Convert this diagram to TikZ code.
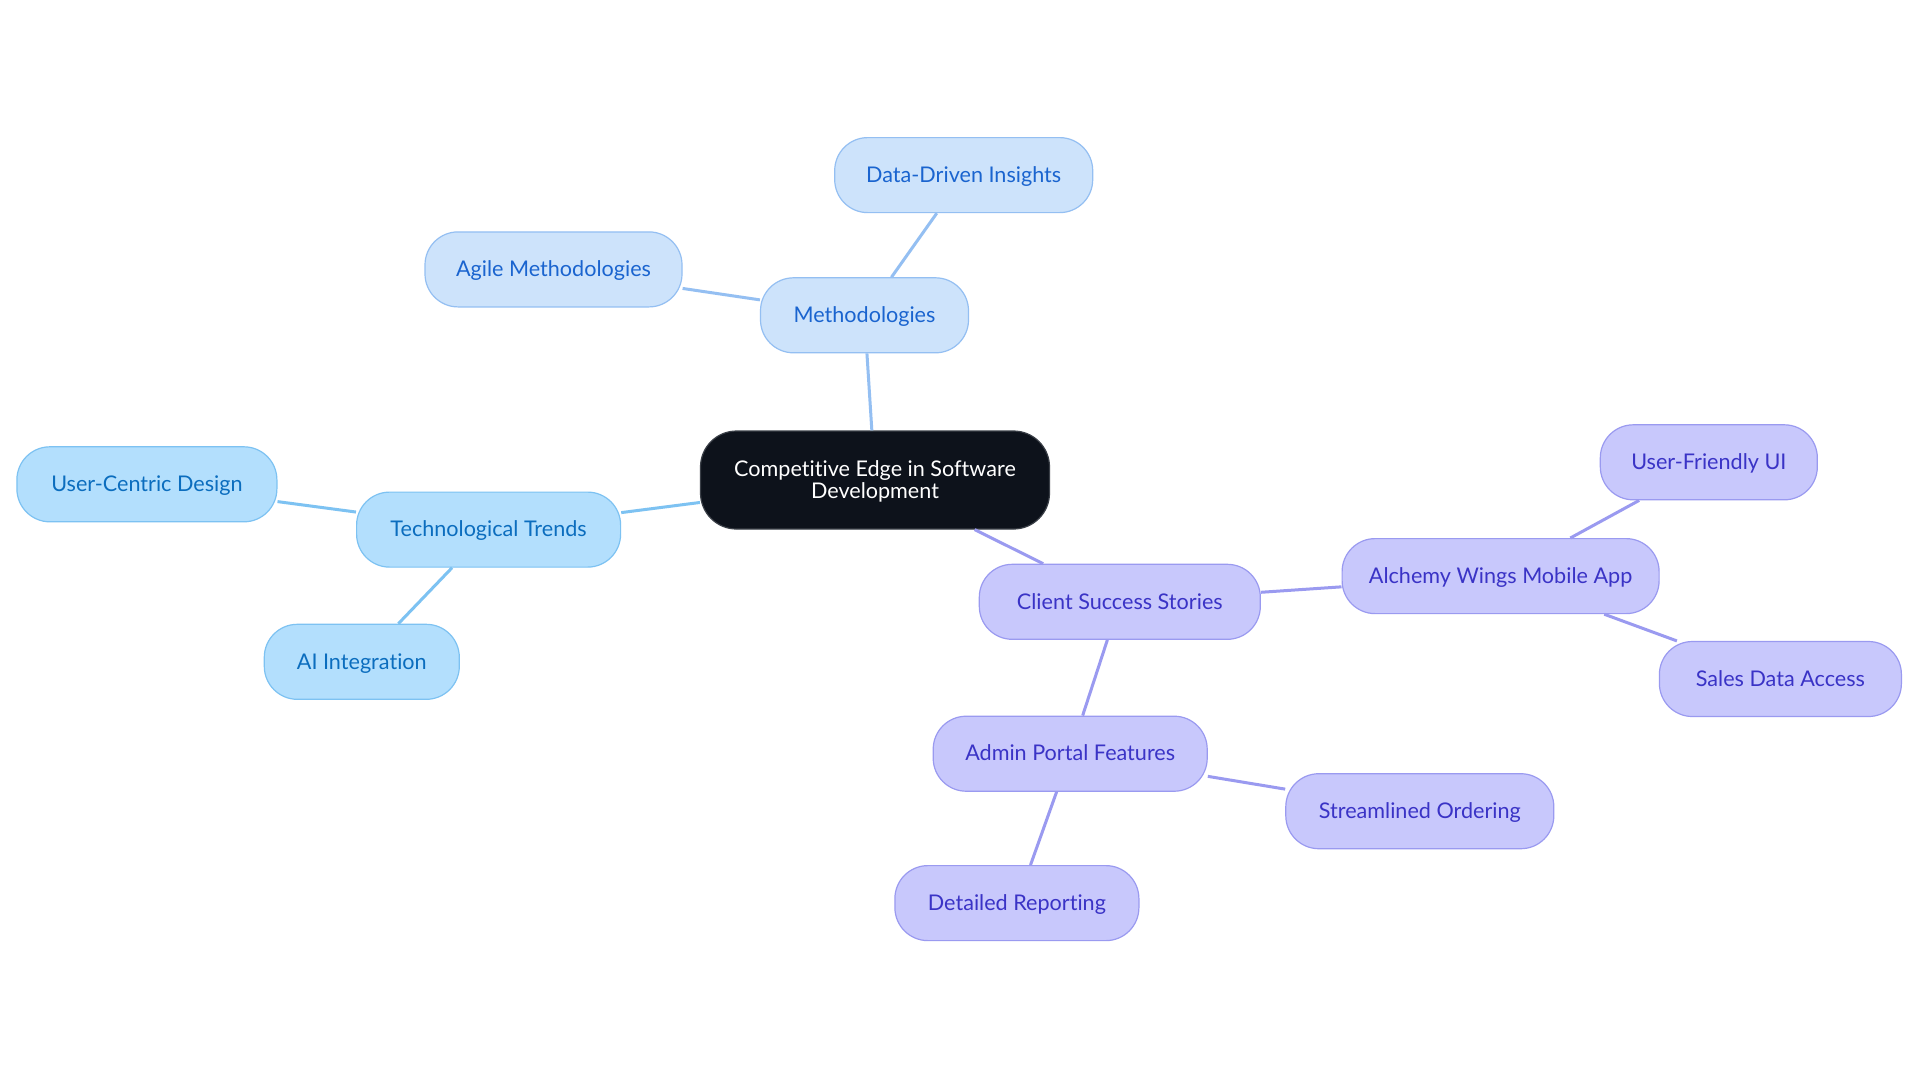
\documentclass[tikz,border=0pt]{standalone}
\usepackage{fontspec}
\setmainfont{Lato}[Ligatures={NoCommon,NoRare,NoDiscretionary}]
\definecolor{mfill}{HTML}{CDE3FB}
\definecolor{mdraw}{HTML}{94BFF2}
\definecolor{mtext}{HTML}{1A64CF}
\definecolor{tfill}{HTML}{B3DFFD}
\definecolor{tdraw}{HTML}{7DC2F2}
\definecolor{ttext}{HTML}{0B6DBE}
\definecolor{pfill}{HTML}{C8C8FC}
\definecolor{pdraw}{HTML}{9A9AF0}
\definecolor{ptext}{HTML}{3A33C6}
\definecolor{cfill}{HTML}{0D121B}
\definecolor{cdraw}{HTML}{3A3F47}
\begin{document}
\begin{tikzpicture}[x=0.5pt,y=-0.5pt,
  base/.style={rounded corners=16.5pt, minimum height=37.5pt, draw, line width=0.6pt,
    font=\fontsize{10.8}{11}\selectfont, inner xsep=0pt, inner ysep=0pt, align=center,
    text height=8pt, text depth=0.8pt},
  mnode/.style={base, fill=mfill, draw=mdraw, text=mtext},
  tnode/.style={base, fill=tfill, draw=tdraw, text=ttext},
  pnode/.style={base, fill=pfill, draw=pdraw, text=ptext},
  cnode/.style={rounded corners=18pt, draw, line width=0.6pt, fill=cfill, draw=cdraw, text=white,
    minimum height=49pt, inner xsep=0pt, inner ysep=0pt, align=center,
    font=\fontsize{10.8}{11}\selectfont},
  medge/.style={draw=mdraw, line width=1.5pt},
  tedge/.style={draw=tdraw, line width=1.5pt},
  pedge/.style={draw=pdraw, line width=1.5pt}]
\useasboundingbox (0,0) rectangle (1920,1083);
\fill[white] (0,0) rectangle (1920,1083);

\node[cnode, minimum width=174.5pt] (c) at (875,480) {\rule{0pt}{9pt}Competitive Edge in Software\\Development\rule{0pt}{0pt}};

\node[mnode, minimum width=104pt] (meth) at (864.5,315.3) {Methodologies};
\node[mnode, minimum width=129pt] (ddi) at (963.7,175.1) {Data-Driven Insights};
\node[mnode, minimum width=128.5pt] (agile) at (553.5,269.4) {Agile Methodologies};

\node[tnode, minimum width=132pt] (tt) at (488.6,529.6) {Technological Trends};
\node[tnode, minimum width=130pt] (ucd) at (146.9,484.3) {User-Centric Design};
\node[tnode, minimum width=97.5pt] (ai) at (361.8,661.8) {AI Integration};

\node[pnode, minimum width=140.5pt] (css) at (1119.8,601.8) {Client Success Stories};
\node[pnode, minimum width=158.5pt] (awma) at (1500.6,576.1) {Alchemy Wings Mobile App};
\node[pnode, minimum width=108.5pt] (ufui) at (1708.8,462.3) {User-Friendly UI};
\node[pnode, minimum width=121pt] (sda) at (1780.4,679) {Sales Data Access};
\node[pnode, minimum width=137pt] (apf) at (1070.2,753.7) {Admin Portal Features};
\node[pnode, minimum width=134pt] (so) at (1419.8,811.2) {Streamlined Ordering};
\node[pnode, minimum width=122pt] (dr) at (1016.9,903.1) {Detailed Reporting};

\draw[medge] (c) -- (meth);
\draw[medge] (meth) -- (ddi);
\draw[medge] (meth) -- (agile);
\draw[tedge] (c) -- (tt);
\draw[tedge] (tt) -- (ucd);
\draw[tedge] (tt) -- (ai);
\draw[pedge] (c) -- (css);
\draw[pedge] (css) -- (awma);
\draw[pedge] (awma) -- (ufui);
\draw[pedge] (awma) -- (sda);
\draw[pedge] (css) -- (apf);
\draw[pedge] (apf) -- (so);
\draw[pedge] (apf) -- (dr);
\end{tikzpicture}
\end{document}
